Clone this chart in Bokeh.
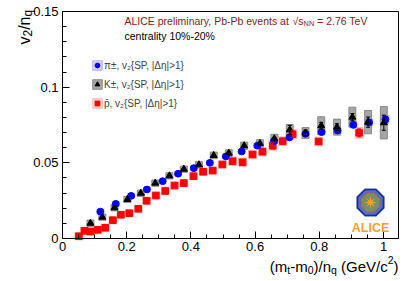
import numpy as np
from bokeh.plotting import figure
from bokeh.models import (ColumnDataSource, Whisker, TeeHead, Label, Legend, LegendItem,
                          SingleIntervalTicker, CustomJSTickFormatter, Range1d, PolyAnnotation,
                          LinearAxis)
from bokeh.embed import file_html
from bokeh.resources import INLINE

# ---------------- data ----------------
pi_x = [0.118, 0.166, 0.214, 0.263, 0.312, 0.360, 0.409, 0.459, 0.509, 0.558,
        0.607, 0.659, 0.707, 0.757, 0.807, 0.857, 0.906, 0.955, 1.006]
pi_y = [0.0178, 0.0229, 0.0282, 0.0324, 0.0379, 0.0428, 0.0465, 0.0500, 0.0542, 0.0575,
        0.0613, 0.0643, 0.0668, 0.0692, 0.0703, 0.0714, 0.0751, 0.0767, 0.0787]
pi_stat = [0.0005] * 16 + [0.0010, 0.0012, 0.0015]
pi_sys = [0.0015] * 15 + [0.0018, 0.0020, 0.0022, 0.0025]

k_x = [0.087, 0.124, 0.162, 0.202, 0.244, 0.289, 0.333, 0.378, 0.425, 0.471, 0.518,
       0.566, 0.615, 0.660, 0.708, 0.757, 0.806, 0.855, 0.903, 0.952, 1.001]
k_y = [0.0101, 0.0141, 0.0203, 0.0258, 0.0299, 0.0366, 0.0414, 0.0458, 0.0487, 0.0549, 0.0564,
       0.0613, 0.0628, 0.0659, 0.0718, 0.0697, 0.0745, 0.0736, 0.0802, 0.0769, 0.0765]
k_stat = [0.0006] * 13 + [0.0010, 0.0030, 0.0020, 0.0022, 0.0022, 0.0024, 0.0034, 0.0050]
k_sys = [0.0021] * 9 + [0.0022, 0.0022, 0.0024, 0.0025, 0.0030, 0.0035, 0.0036,
                        0.0060, 0.0053, 0.0066, 0.0077, 0.0107]

p_x = [0.051, 0.0685, 0.087, 0.110, 0.133, 0.157, 0.182, 0.208, 0.236, 0.262, 0.291, 0.320,
       0.349, 0.378, 0.408, 0.438, 0.468, 0.498, 0.530, 0.561, 0.592, 0.623, 0.655, 0.686,
       0.717, 0.798, 0.924]
p_y = [0.0015, 0.0051, 0.0046, 0.0057, 0.0071, 0.0121, 0.0157, 0.0167, 0.0196, 0.0249, 0.0284,
       0.0314, 0.0350, 0.0366, 0.0412, 0.0441, 0.0449, 0.0489, 0.0511, 0.0504, 0.0555, 0.0573,
       0.0613, 0.0643, 0.0689, 0.0641, 0.0698]
p_stat = [0.0008] * 22 + [0.0022, 0.0020, 0.0022, 0.0015, 0.0027]
p_sys = [0.0025] * 18 + [0.0028] * 4 + [0.0030, 0.0030, 0.0032, 0.0030, 0.0036]

x_ticks_interval = 0.2
y_ticks_interval = 0.05
x_axis_range = (0.0, 1.0467)
y_axis_range = (0.0, 0.15)

legend_labels = ["π±, v₂{SP, |Δη|>1}", "K±, v₂{SP, |Δη|>1}", "p̄, v₂{SP, |Δη|>1}"]

FONT = "Liberation Sans"

# ---------------- figure ----------------
# The frame covers the whole canvas; the axes sit at fixed locations so that
# titles with sub/superscripts can be placed around them without being clipped.
W_PX, H_PX = 415, 281
BOX_L, BOX_R, BOX_T, BOX_B = 62, 398, 11, 238
sx = (BOX_R - BOX_L) / (x_axis_range[1] - x_axis_range[0])
sy = (BOX_B - BOX_T) / (y_axis_range[1] - y_axis_range[0])
xr = Range1d(x_axis_range[0] - BOX_L / sx, x_axis_range[1] + (W_PX - BOX_R) / sx)
yr = Range1d(y_axis_range[0] - (H_PX - BOX_B) / sy, y_axis_range[1] + BOX_T / sy)

p = figure(width=W_PX, height=H_PX, output_backend="svg", toolbar_location=None,
           x_range=xr, y_range=yr, x_axis_location=None, y_axis_location=None,
           min_border=0, min_border_left=0, min_border_right=0, min_border_top=0,
           min_border_bottom=0)
p.xgrid.visible = False
p.ygrid.visible = False
p.outline_line_color = None
p.background_fill_color = "white"
p.border_fill_color = "white"

# plot box (frame of the data area)
p.quad(left=[x_axis_range[0]], right=[x_axis_range[1]], bottom=[y_axis_range[0]],
       top=[y_axis_range[1]], fill_color=None, line_color="black", line_width=1)

fmt = CustomJSTickFormatter(code="return tick.toFixed(2).replace(/\\.?0+$/, '');")
xaxis = LinearAxis(fixed_location=y_axis_range[0],
                   bounds=(x_axis_range[0], x_axis_range[1]),
                   ticker=SingleIntervalTicker(interval=x_ticks_interval, num_minor_ticks=4))
yaxis = LinearAxis(fixed_location=x_axis_range[0],
                   bounds=(y_axis_range[0], y_axis_range[1] + 1e-6),
                   ticker=SingleIntervalTicker(interval=y_ticks_interval, num_minor_ticks=5))
for ax in (xaxis, yaxis):
    ax.formatter = fmt
    ax.major_tick_in = 7
    ax.major_tick_out = 0
    ax.minor_tick_in = 4
    ax.minor_tick_out = 0
    ax.axis_line_color = "black"
    ax.major_tick_line_color = "black"
    ax.minor_tick_line_color = "black"
    ax.major_label_text_font = FONT
    ax.major_label_text_font_size = "13px"
    ax.major_label_text_color = "black"
yaxis.major_label_standoff = 4
xaxis.major_label_standoff = 3
p.add_layout(xaxis, "below")
p.add_layout(yaxis, "left")


def make_src(x, y, stat, sys):
    x = np.array(x); y = np.array(y); stat = np.array(stat); sys = np.array(sys)
    return ColumnDataSource(dict(x=x, y=y, lo=y - stat, hi=y + stat, h=2 * sys))


s_pi = make_src(pi_x, pi_y, pi_stat, pi_sys)
s_k = make_src(k_x, k_y, k_stat, k_sys)
s_p = make_src(p_x, p_y, p_stat, p_sys)

# systematic boxes
rb_k = p.rect(x="x", y="y", width=7, width_units="screen", height="h", source=s_k,
              fill_color="#a6a6a6", fill_alpha=1.0, line_color="#7a7a7a", line_alpha=0.8)
rb_p = p.rect(x="x", y="y", width=8, width_units="screen", height="h", source=s_p,
              fill_color="#ff8080", fill_alpha=0.35, line_color="#ff6060", line_alpha=0.35)
rb_pi = p.rect(x="x", y="y", width=7, width_units="screen", height="h", source=s_pi,
               fill_color="#8080ff", fill_alpha=0.35, line_color="#6060ff", line_alpha=0.4)

# statistical errors
for src, col in ((s_p, "#ff0000"), (s_pi, "#0000ff"), (s_k, "black")):
    p.add_layout(Whisker(source=src, base="x", upper="hi", lower="lo", line_color=col,
                         line_width=1, level="glyph",
                         upper_head=TeeHead(size=4, line_color=col),
                         lower_head=TeeHead(size=4, line_color=col)))

rm_p = p.scatter(x="x", y="y", source=s_p, marker="square", size=6.5,
                 fill_color="#ff0000", line_color="#ff0000")
rm_pi = p.scatter(x="x", y="y", source=s_pi, marker="circle", size=6.8,
                  fill_color="#0000ff", line_color="#0000ff")
rm_k = p.scatter(x="x", y="y", source=s_k, marker="triangle", size=7,
                 fill_color="black", line_color="black")

legend = Legend(items=[LegendItem(label=legend_labels[0], renderers=[rb_pi, rm_pi]),
                       LegendItem(label=legend_labels[1], renderers=[rb_k, rm_k]),
                       LegendItem(label=legend_labels[2], renderers=[rb_p, rm_p])],
                location=(91, 172), glyph_width=12, glyph_height=12, label_standoff=1,
                spacing=7, padding=0, margin=0, border_line_color=None,
                background_fill_alpha=0, label_text_font=FONT, label_text_font_size="10px",
                label_height=12)
p.add_layout(legend)

# ---------------- rich text helpers ----------------
W = {' ': 278, '(': 333, ')': 333, '-': 333, '/': 278, '0': 556, '1': 556, '2': 556,
     '5': 556, '6': 556, '7': 556, '.': 278, ',': 278, '=': 584, '%': 889,
     'A': 667, 'C': 722, 'E': 667, 'G': 778, 'I': 278, 'L': 556, 'N': 722, 'P': 667,
     'T': 611, 'V': 667, 'a': 556, 'b': 556, 'c': 500, 'e': 556, 'i': 222, 'l': 222,
     'm': 833, 'n': 556, 'p': 556, 'q': 556, 'r': 333, 's': 500, 't': 278, 'v': 500,
     'y': 500, '√': 549}


def tw(s, size):
    return sum(W.get(c, 556) for c in s) * size / 1000.0


def rich(pieces, x0, y0, size, color, angle=0.0, align="left"):
    """x0, y0: canvas pixels (y measured from the bottom), baseline start."""
    total = sum(tw(t, size * sc) for t, sc, sh in pieces)
    acc = -total if align == "right" else 0.0
    for t, sc, sh in pieces:
        fs = size * sc
        lead = len(t) - len(t.lstrip(' '))
        acc += tw(' ' * lead, fs)
        core = t.strip(' ')
        if core:
            if angle == 0:
                lx, ly = x0 + acc, y0 + sh * size
            else:
                lx, ly = x0 - sh * size, y0 + acc
            p.add_layout(Label(x=lx, y=ly, x_units="screen", y_units="screen", text=core,
                               angle=angle, text_align="left", text_baseline="alphabetic",
                               text_font=FONT, text_font_size=f"{fs:.2f}px",
                               text_color=color))
        acc += tw(core, fs)
        trail = len(t) - len(t.rstrip(' ')) if core else 0
        acc += tw(' ' * trail, fs)


# header lines
rich([("ALICE preliminary, Pb-Pb events at ", 1, 0), ("√", 1, 0), ("s", 1, 0),
      ("NN", 0.7, -0.25), (" = 2.76 TeV", 1, 0)], 124, H_PX - 20, 10.5, "#8b1a1a")
rich([("centrality 10%-20%", 1, 0)], 124, H_PX - 35, 10.5, "black")

# axis titles
rich([("(m", 1, 0), ("t", 0.7, -0.25), ("-m", 1, 0), ("0", 0.7, -0.25), (")/n", 1, 0),
      ("q", 0.7, -0.25), (" (GeV/c", 1, 0), ("2", 0.7, 0.45), (")", 1, 0)],
     BOX_R, H_PX - 266, 15, "black", align="right")
rich([("v", 1, 0), ("2", 0.75, -0.2), ("/n", 1, 0), ("q", 0.75, -0.2)],
     24, H_PX - 44, 16, "black", angle=np.pi / 2)

# ---------------- ALICE logo (decoration) ----------------
cx, cy = 370, H_PX - 202
ang = np.pi / 8 + np.arange(8) * np.pi / 4


def octa(r):
    return list(cx + r * np.cos(ang)), list(cy + r * np.sin(ang))


for r, fc, lc, lw in ((15, "#1c2f8c", "#1c2f8c", 1), (13, "#4a74d4", "#4a74d4", 1),
                      (10.5, "#7c8c68", "#e8202a", 1.5)):
    xs, ys = octa(r)
    p.add_layout(PolyAnnotation(xs=xs, ys=ys, xs_units="screen", ys_units="screen",
                                fill_color=fc, fill_alpha=1, line_color=lc, line_width=lw,
                                level="overlay"))
sa = np.arange(16) * np.pi / 8
sr = np.where(np.arange(16) % 2 == 0, 6, 2)
p.add_layout(PolyAnnotation(xs=list(cx + sr * np.cos(sa)), ys=list(cy + sr * np.sin(sa)),
                            xs_units="screen", ys_units="screen", fill_color="#f5a623",
                            fill_alpha=1, line_color="#f5a623", line_width=0.5,
                            level="overlay"))
p.add_layout(Label(x=cx, y=H_PX - 227, x_units="screen", y_units="screen", text="ALICE",
                   text_align="center", text_baseline="alphabetic", text_font=FONT,
                   text_font_style="bold", text_font_size="12.5px", text_color="#f7a030"))

open("out.html", "w").write(file_html(p, INLINE))
